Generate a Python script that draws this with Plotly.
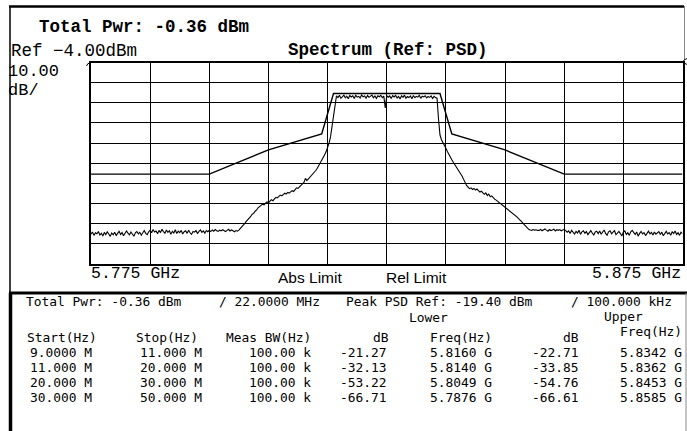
import numpy as np
import plotly.graph_objects as go

# ---------------- data ----------------
sweep_start_ghz = 5.775
sweep_stop_ghz = 5.875

# measured trace (dBm), sweep points every 0.25 MHz
noise_low = [
    -89.2, -88.1, -89.8, -88.5, -89.0, -87.9, -89.6, -88.7, -90.1, -88.3,
    -89.4, -88.0, -89.1, -90.3, -88.6, -89.5, -88.2, -89.9, -88.8, -87.8,
    -89.3, -88.4, -90.0, -88.9, -87.6, -88.7, -89.5, -88.1, -89.2, -90.2,
    -88.5, -87.9, -89.0, -88.3, -89.7, -88.6, -87.4, -88.8, -89.4, -88.0,
    -87.2, -88.5, -86.9, -88.1, -87.6, -89.0, -87.3, -88.4, -86.8, -87.9,
    -88.7, -87.1, -88.3, -87.5, -89.2, -87.8, -88.6, -87.0, -88.9, -87.7,
    -88.4, -87.3, -89.1, -88.0, -87.5, -88.8, -87.2, -88.5, -89.3, -87.9,
    -88.2, -87.4, -88.9, -87.8, -87.1, -88.3, -87.6, -88.7, -87.4, -88.0,
    -87.3, -87.9, -87.1, -87.7, -86.9, -87.5, -87.8, -87.2, -87.6, -87.0,
    -87.4, -87.9, -87.3, -86.8, -87.6, -87.1, -87.5, -88.0, -87.4, -87.7,
    -87.2,
]
skirt_low = [
    -86.2, -85.3, -84.6, -83.8, -82.9, -82.2, -81.0, -80.4, -79.3, -78.9,
    -77.8, -77.2, -76.1, -75.6, -75.0, -74.3, -74.6, -73.8, -73.2, -73.6,
    -72.8, -72.1, -72.6, -71.5, -70.9, -71.2, -70.3, -69.8, -70.2, -69.4,
    -68.9, -69.3, -68.5, -68.8, -68.1, -67.6, -68.0, -67.0, -66.2, -66.5,
    -65.6, -65.0, -64.2, -63.5, -61.5, -62.6, -61.8, -61.0, -60.3, -59.4,
    -58.6, -57.6, -56.5, -55.3, -53.9, -52.4, -51.0, -49.8, -48.2, -46.3,
    -44.0, -40.8, -36.0, -30.5, -24.5,
]
in_band = [
    -20.6, -21.4, -20.3, -21.8, -20.9, -20.2, -21.5, -20.7, -22.0, -20.4,
    -21.1, -20.5, -21.9, -20.3, -21.2, -20.8, -21.6, -20.1, -21.0, -20.6,
    -21.7, -20.4, -21.3, -20.9, -20.2, -21.5, -20.6, -21.8, -20.5, -21.0,
    -20.3, -21.4, -20.7, -26.5, -20.5, -21.2, -20.6, -21.9, -20.4, -21.1,
    -20.3, -21.6, -20.8, -22.1, -20.5, -21.3, -20.2, -21.7, -20.9, -21.4,
    -20.6, -22.0, -20.4, -21.5, -20.8, -21.2, -20.3, -21.8, -20.7, -21.1,
    -20.5, -21.6, -20.9, -21.3, -20.6, -21.9, -20.8, -21.4, -21.7,
]
skirt_high = [
    -32.0, -40.0, -42.3, -43.5, -44.8, -46.5, -48.2, -49.8, -51.0, -52.3,
    -53.5, -54.6, -55.8, -57.0, -58.0, -59.2, -60.4, -62.0, -63.6, -65.0,
    -65.8, -66.6, -66.2, -67.0, -66.5, -67.3, -66.8, -67.8, -68.3, -67.9,
    -68.9, -69.4, -68.7, -70.0, -69.3, -70.6, -70.2, -71.3, -71.8, -72.3,
    -72.9, -73.4, -74.0, -74.6, -75.1, -75.5, -76.3, -76.8, -77.4, -78.0,
    -78.6, -79.1, -79.9, -80.6, -81.4, -82.0, -82.9, -83.6, -84.5, -85.4,
    -86.2, -86.8, -87.1, -87.3, -86.9, -87.2, -87.0, -87.4,
]
noise_high = [
    -87.3, -86.8, -87.5, -87.0, -86.6, -87.2, -87.7, -86.9, -87.4, -87.1,
    -86.7, -87.6, -87.0, -87.3, -86.9, -87.5, -87.2, -86.8, -87.4, -88.2,
    -87.6, -88.9, -87.3, -88.4, -89.1, -87.8, -88.6, -87.2, -89.3, -88.0,
    -87.5, -88.8, -87.9, -89.4, -88.2, -87.4, -88.7, -89.6, -88.1, -87.7,
    -88.9, -87.6, -89.2, -88.4, -87.1, -88.8, -89.7, -88.0, -87.5, -89.0,
    -88.3, -87.4, -89.5, -88.6, -87.8, -88.9, -90.1, -88.2, -87.6, -89.3,
    -88.5, -89.8, -88.0, -87.3, -88.7, -89.4, -88.1, -90.2, -88.8, -87.9,
    -89.1, -88.4, -89.9, -88.6, -87.7, -89.0, -88.3, -89.6, -88.1, -89.2,
    -88.6, -87.9, -89.4, -88.2, -90.0, -88.7, -87.8, -89.1, -88.4, -89.7,
    -88.0, -88.9, -87.6, -89.3, -88.5, -89.8, -88.2, -88.9,
]

# limit mask (dBm)
mask_freq_ghz = [5.775, 5.795, 5.805, 5.814, 5.816, 5.834, 5.836, 5.845, 5.855, 5.875]
mask_level_dbm = [-59.4, -59.4, -47.4, -39.4, -19.4, -19.4, -39.4, -47.4, -59.4, -59.4]

# result table
start_hz = ["9.0000 M", "11.000 M", "20.000 M", "30.000 M"]
stop_hz = ["11.000 M", "20.000 M", "30.000 M", "50.000 M"]
meas_bw = ["100.00 k", "100.00 k", "100.00 k", "100.00 k"]
lower_db = ["-21.27", "-32.13", "-53.22", "-66.71"]
lower_freq = ["5.8160 G", "5.8140 G", "5.8049 G", "5.7876 G"]
upper_db = ["-22.71", "-33.85", "-54.76", "-66.61"]
upper_freq = ["5.8342 G", "5.8362 G", "5.8453 G", "5.8585 G"]

trace_dbm = noise_low + skirt_low + in_band + skirt_high + noise_high
trace_freq = np.linspace(sweep_start_ghz, sweep_stop_ghz, len(trace_dbm))

# ---------------- layout helpers ----------------
W, H = 687, 431


def X(px):
    return px / W


def Y(py):
    return 1 - py / H


MONO = "Liberation Mono"
SANS = "Liberation Sans"
TAB = "DejaVu Sans Mono"
TS = 12.9
annotations = []


def ann(text, x, y, xanchor="left", size=TS, family=TAB, bold=False):
    annotations.append(dict(
        text=f"<b>{text}</b>" if bold else text,
        x=X(x), y=Y(y), xref="paper", yref="paper",
        xanchor=xanchor, yanchor="middle", showarrow=False, borderpad=0,
        font=dict(family=family, size=size, color="black"),
    ))


fig = go.Figure()
fig.add_trace(go.Scatter(x=mask_freq_ghz, y=mask_level_dbm, mode="lines",
                         line=dict(color="black", width=1.4), hoverinfo="skip"))
fig.add_trace(go.Scatter(x=trace_freq, y=trace_dbm, mode="lines",
                         line=dict(color="black", width=1.1), hoverinfo="skip"))

# upper texts
ann("Total Pwr: -0.36 dBm", 38, 26.5, size=17.5, family=MONO, bold=True)
ann("Ref \u22124.00dBm", 10, 50.5, size=17.5, family=MONO)
ann("Spectrum (Ref: PSD)", 388, 50, xanchor="center", size=17.5, family=MONO, bold=True)
ann("10.00", 7, 71.5, size=17, family=MONO)
ann("dB/", 7, 91, size=17, family=MONO)
ann("5.775 GHz", 90, 273.5, size=16.5, family=MONO)
ann("5.875 GHz", 682, 273.5, xanchor="right", size=16.5, family=MONO)
ann("Abs Limit", 277, 277.5, size=15.5, family=SANS)
ann("Rel Limit", 385, 277.5, size=15.5, family=SANS)

# lower panel
ann("Total Pwr: -0.36 dBm", 25, 301)
ann("/ 22.0000 MHz", 218, 301)
ann("Peak PSD Ref: -19.40 dBm", 345, 301)
ann("/ 100.000 kHz", 673, 301, xanchor="right")
ann("Lower", 408, 317.5)
ann("Upper", 603, 316.5)
ann("Start(Hz)", 26, 337)
ann("Stop(Hz)", 135, 337)
ann("Meas BW(Hz)", 312, 337, xanchor="right")
ann("dB", 390, 337, xanchor="right")
ann("Freq(Hz)", 493, 337, xanchor="right")
ann("dB", 580, 337, xanchor="right")
ann("Freq(Hz)", 683, 331.5, xanchor="right")
row_y = [352, 367, 382, 397]
for i, yy in enumerate(row_y):
    ann(start_hz[i], 93, yy, xanchor="right")
    ann(stop_hz[i], 203, yy, xanchor="right")
    ann(meas_bw[i], 312, yy, xanchor="right")
    ann(lower_db[i], 388, yy, xanchor="right")
    ann(lower_freq[i], 493, yy, xanchor="right")
    ann(upper_db[i], 580, yy, xanchor="right")
    ann(upper_freq[i], 683, yy, xanchor="right")

# frame shapes
shapes = []


def seg(x0, y0, x1, y1, width, color="black"):
    shapes.append(dict(type="line", xref="paper", yref="paper",
                       x0=X(x0), y0=Y(y0), x1=X(x1), y1=Y(y1),
                       line=dict(color=color, width=width)))


seg(9, 6.5, 684, 6.5, 2.5)
seg(10, 6, 10, 292, 1.5)
seg(684.5, 6, 684.5, 60, 1, "#888888")
seg(9, 293, 687, 293, 3)
seg(10.5, 293, 10.5, 431, 3.5)
seg(686, 293, 686, 431, 1, "#888888")


def pth(points):
    d = "M " + " L ".join(f"{X(px):.5f},{Y(py):.5f}" for px, py in points)
    shapes.append(dict(type="path", xref="paper", yref="paper", path=d,
                       line=dict(color="black", width=1)))


pth([(86.5, 66), (88, 63.5), (89.5, 63.5), (89.5, 70)])
pth([(687, 58.5), (684, 60), (683.5, 61.5), (684, 63), (687, 64.5)])

fig.update_layout(
    width=W, height=H,
    margin=dict(l=0, r=0, t=0, b=0),
    paper_bgcolor="white", plot_bgcolor="white",
    showlegend=False,
    annotations=annotations, shapes=shapes,
    xaxis=dict(domain=[X(91), X(682.5)], range=[sweep_start_ghz, sweep_stop_ghz],
               dtick=0.01, tick0=sweep_start_ghz, showgrid=True, gridcolor="black", gridwidth=1.3,
               showline=True, linecolor="black", linewidth=1.5, mirror=True,
               showticklabels=False, ticks="", zeroline=False, fixedrange=True),
    yaxis=dict(domain=[Y(264), Y(62.5)], range=[-104, -4],
               dtick=10, tick0=-4, showgrid=True, gridcolor="black", gridwidth=1.3,
               showline=True, linecolor="black", linewidth=1.5, mirror=True,
               showticklabels=False, ticks="", zeroline=False, fixedrange=True),
)

fig.write_html("out.html", config={"displayModeBar": False},
               post_script="document.body.style.margin='0';document.body.style.overflow='hidden';")
